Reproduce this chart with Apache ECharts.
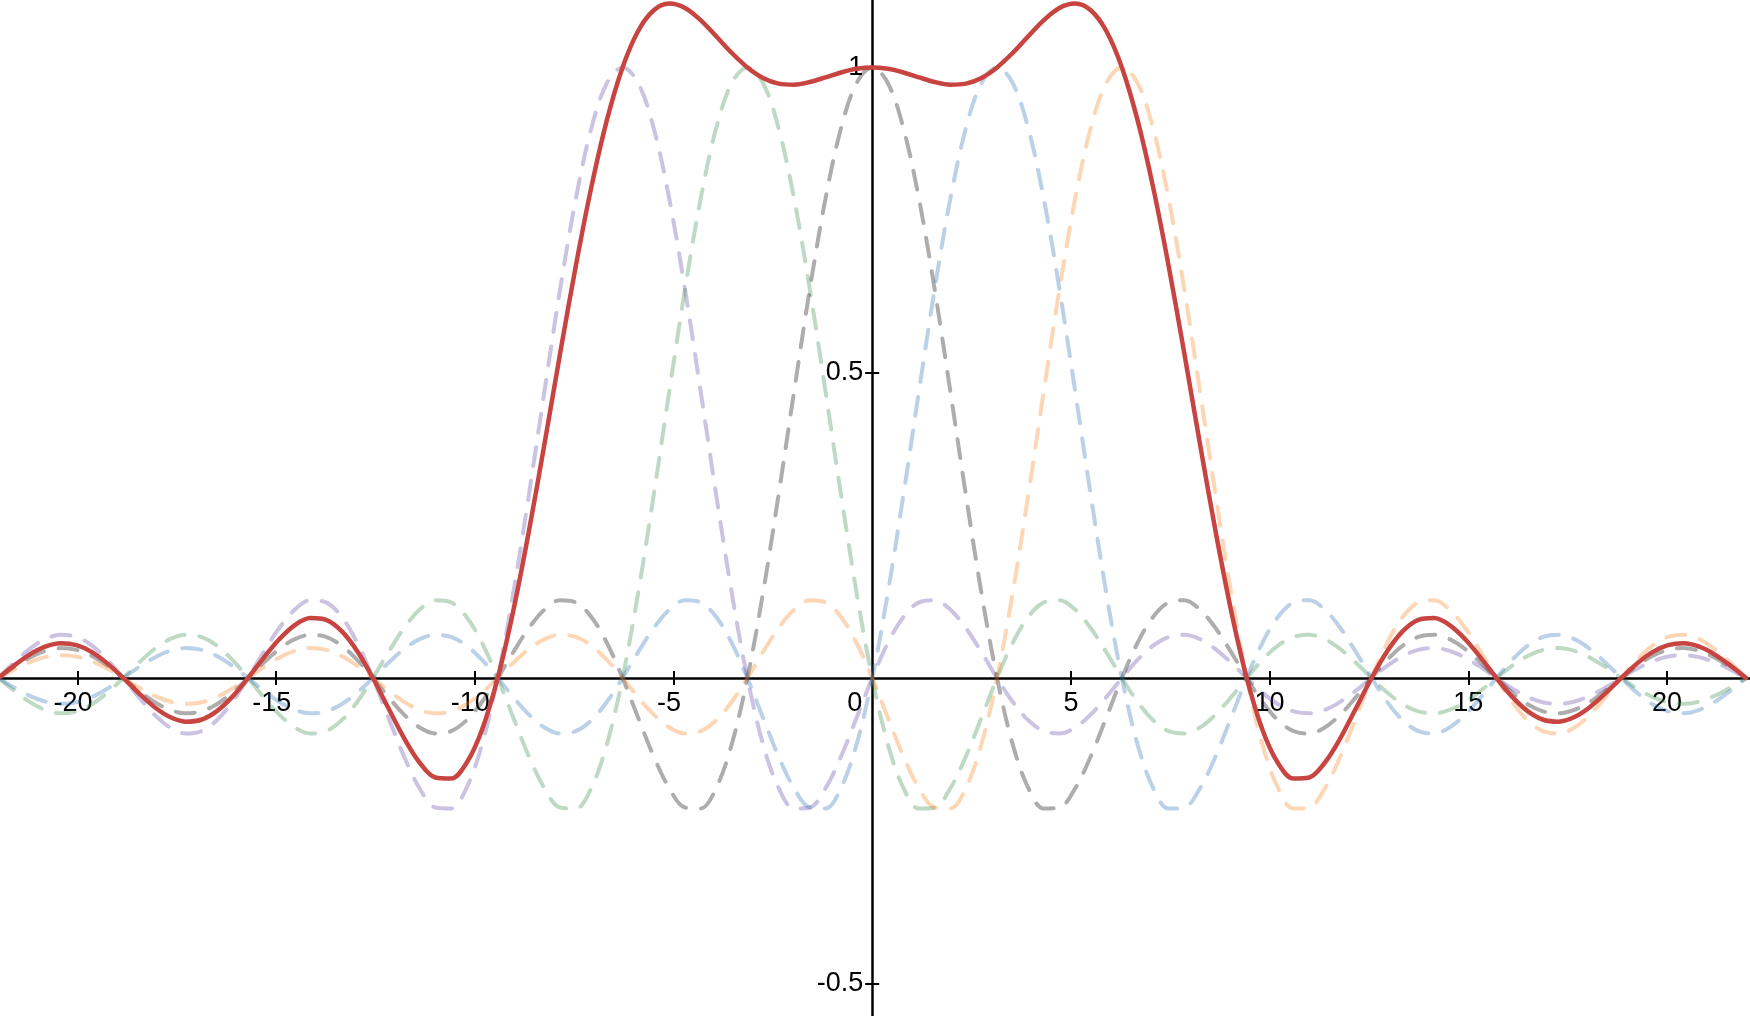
<!DOCTYPE html>
<html>
<head>
<meta charset="utf-8">
<script src="https://cdn.jsdelivr.net/npm/echarts@6/dist/echarts.min.js"></script>
<style>
html,body{margin:0;padding:0;background:#fff;}
#c{width:1750px;height:1016px;}
</style>
</head>
<body>
<div id="c"></div>
<script>
// sample positions (x)
const xs = [-21.9911, -21.5984, -21.2058, -20.8131, -20.4204, -20.0277, -19.6350, -19.2423, -18.8496, -18.4569, -18.0642, -17.6715, -17.2788, -16.8861, -16.4934, -16.1007, -15.7080, -15.3153, -14.9226, -14.5299, -14.1372, -13.7445, -13.3518, -12.9591, -12.5664, -12.1737, -11.7810, -11.3883, -10.9956, -10.6029, -10.2102, -9.8175, -9.4248, -9.0321, -8.6394, -8.2467, -7.8540, -7.4613, -7.0686, -6.6759, -6.2832, -5.8905, -5.4978, -5.1051, -4.7124, -4.3197, -3.9270, -3.5343, -3.1416, -2.7489, -2.3562, -1.9635, -1.5708, -1.1781, -0.7854, -0.3927,
  0,
  0.3927, 0.7854, 1.1781, 1.5708, 1.9635, 2.3562, 2.7489, 3.1416, 3.5343, 3.9270, 4.3197, 4.7124, 5.1051, 5.4978, 5.8905, 6.2832, 6.6759, 7.0686, 7.4613, 7.8540, 8.2467, 8.6394, 9.0321, 9.4248, 9.8175, 10.2102, 10.6029, 10.9956, 11.3883, 11.7810, 12.1737, 12.5664, 12.9591, 13.3518, 13.7445, 14.1372, 14.5299, 14.9226, 15.3153, 15.7080, 16.1007, 16.4934, 16.8861, 17.2788, 17.6715, 18.0642, 18.4569, 18.8496, 19.2423, 19.6350, 20.0277, 20.4204, 20.8131, 21.2058, 21.5984, 21.9911];

// dashed curve peaking at x = -2π (purple)
const purpleY = [0, 0.0250, 0.0474, 0.0636, 0.0707, 0.0672, 0.0530, 0.0295, 0, -0.0314, -0.0600, -0.0811, -0.0909, -0.0871, -0.0693, -0.0390, 0, 0.0424, 0.0818, 0.1120, 0.1273, 0.1238, 0.1000, 0.0573, 0, -0.0650, -0.1286, -0.1810, -0.2122, -0.2139, -0.1801, -0.1083, 0, 0.1392, 0.3001, 0.4705, 0.6366, 0.7842, 0.9003, 0.9745,
  1,
  0.9745, 0.9003, 0.7842, 0.6366, 0.4705, 0.3001, 0.1392, 0, -0.1083, -0.1801, -0.2139, -0.2122, -0.1810, -0.1286, -0.0650, 0, 0.0573, 0.1000, 0.1238, 0.1273, 0.1120, 0.0818, 0.0424, 0, -0.0390, -0.0693, -0.0871, -0.0909, -0.0811, -0.0600, -0.0314, 0, 0.0295, 0.0530, 0.0672, 0.0707, 0.0636, 0.0474, 0.0250, 0, -0.0238, -0.0429, -0.0547, -0.0579, -0.0523, -0.0391, -0.0207, 0, 0.0199, 0.0360, 0.0461, 0.0490, 0.0444, 0.0333, 0.0177, 0,
  -0.0171, -0.0310, -0.0399, -0.0424, -0.0386, -0.0290, -0.0155, 0, 0.0150, 0.0273, 0.0351, 0.0374, 0.0341, 0.0257, 0.0137, 0];

// dashed curve peaking at x = -π (green)
const greenY = [0, -0.0207, -0.0391, -0.0523, -0.0579, -0.0547, -0.0429, -0.0238, 0, 0.0250, 0.0474, 0.0636, 0.0707, 0.0672, 0.0530, 0.0295, 0, -0.0314, -0.0600, -0.0811, -0.0909, -0.0871, -0.0693, -0.0390, 0, 0.0424, 0.0818, 0.1120, 0.1273, 0.1238, 0.1000, 0.0573, 0, -0.0650, -0.1286, -0.1810, -0.2122, -0.2139, -0.1801, -0.1083, 0, 0.1392, 0.3001, 0.4705, 0.6366, 0.7842, 0.9003, 0.9745,
  1,
  0.9745, 0.9003, 0.7842, 0.6366, 0.4705, 0.3001, 0.1392, 0, -0.1083, -0.1801, -0.2139, -0.2122, -0.1810, -0.1286, -0.0650, 0, 0.0573, 0.1000, 0.1238, 0.1273, 0.1120, 0.0818, 0.0424, 0, -0.0390, -0.0693, -0.0871, -0.0909, -0.0811, -0.0600, -0.0314, 0, 0.0295, 0.0530, 0.0672, 0.0707, 0.0636, 0.0474, 0.0250, 0, -0.0238, -0.0429, -0.0547, -0.0579, -0.0523, -0.0391, -0.0207, 0, 0.0199, 0.0360, 0.0461, 0.0490, 0.0444, 0.0333, 0.0177, 0,
  -0.0171, -0.0310, -0.0399, -0.0424, -0.0386, -0.0290, -0.0155, 0];

// dashed curve peaking at x = 0 (gray)
const grayY = [0, 0.0177, 0.0333, 0.0444, 0.0490, 0.0461, 0.0360, 0.0199, 0, -0.0207, -0.0391, -0.0523, -0.0579, -0.0547, -0.0429, -0.0238, 0, 0.0250, 0.0474, 0.0636, 0.0707, 0.0672, 0.0530, 0.0295, 0, -0.0314, -0.0600, -0.0811, -0.0909, -0.0871, -0.0693, -0.0390, 0, 0.0424, 0.0818, 0.1120, 0.1273, 0.1238, 0.1000, 0.0573, 0, -0.0650, -0.1286, -0.1810, -0.2122, -0.2139, -0.1801, -0.1083, 0, 0.1392, 0.3001, 0.4705, 0.6366, 0.7842, 0.9003, 0.9745,
  1,
  0.9745, 0.9003, 0.7842, 0.6366, 0.4705, 0.3001, 0.1392, 0, -0.1083, -0.1801, -0.2139, -0.2122, -0.1810, -0.1286, -0.0650, 0, 0.0573, 0.1000, 0.1238, 0.1273, 0.1120, 0.0818, 0.0424, 0, -0.0390, -0.0693, -0.0871, -0.0909, -0.0811, -0.0600, -0.0314, 0, 0.0295, 0.0530, 0.0672, 0.0707, 0.0636, 0.0474, 0.0250, 0, -0.0238, -0.0429, -0.0547, -0.0579, -0.0523, -0.0391, -0.0207, 0, 0.0199, 0.0360, 0.0461, 0.0490, 0.0444, 0.0333, 0.0177, 0];

// dashed curve peaking at x = π (blue)
const blueY = [0, -0.0155, -0.0290, -0.0386, -0.0424, -0.0399, -0.0310, -0.0171,
  0, 0.0177, 0.0333, 0.0444, 0.0490, 0.0461, 0.0360, 0.0199, 0, -0.0207, -0.0391, -0.0523, -0.0579, -0.0547, -0.0429, -0.0238, 0, 0.0250, 0.0474, 0.0636, 0.0707, 0.0672, 0.0530, 0.0295, 0, -0.0314, -0.0600, -0.0811, -0.0909, -0.0871, -0.0693, -0.0390, 0, 0.0424, 0.0818, 0.1120, 0.1273, 0.1238, 0.1000, 0.0573, 0, -0.0650, -0.1286, -0.1810, -0.2122, -0.2139, -0.1801, -0.1083, 0, 0.1392, 0.3001, 0.4705, 0.6366, 0.7842, 0.9003, 0.9745,
  1,
  0.9745, 0.9003, 0.7842, 0.6366, 0.4705, 0.3001, 0.1392, 0, -0.1083, -0.1801, -0.2139, -0.2122, -0.1810, -0.1286, -0.0650, 0, 0.0573, 0.1000, 0.1238, 0.1273, 0.1120, 0.0818, 0.0424, 0, -0.0390, -0.0693, -0.0871, -0.0909, -0.0811, -0.0600, -0.0314, 0, 0.0295, 0.0530, 0.0672, 0.0707, 0.0636, 0.0474, 0.0250, 0, -0.0238, -0.0429, -0.0547, -0.0579, -0.0523, -0.0391, -0.0207, 0];

// dashed curve peaking at x = 2π (orange)
const orangeY = [0, 0.0137, 0.0257, 0.0341, 0.0374, 0.0351, 0.0273, 0.0150, 0, -0.0155, -0.0290, -0.0386, -0.0424, -0.0399, -0.0310, -0.0171,
  0, 0.0177, 0.0333, 0.0444, 0.0490, 0.0461, 0.0360, 0.0199, 0, -0.0207, -0.0391, -0.0523, -0.0579, -0.0547, -0.0429, -0.0238, 0, 0.0250, 0.0474, 0.0636, 0.0707, 0.0672, 0.0530, 0.0295, 0, -0.0314, -0.0600, -0.0811, -0.0909, -0.0871, -0.0693, -0.0390, 0, 0.0424, 0.0818, 0.1120, 0.1273, 0.1238, 0.1000, 0.0573, 0, -0.0650, -0.1286, -0.1810, -0.2122, -0.2139, -0.1801, -0.1083, 0, 0.1392, 0.3001, 0.4705, 0.6366, 0.7842, 0.9003, 0.9745,
  1,
  0.9745, 0.9003, 0.7842, 0.6366, 0.4705, 0.3001, 0.1392, 0, -0.1083, -0.1801, -0.2139, -0.2122, -0.1810, -0.1286, -0.0650, 0, 0.0573, 0.1000, 0.1238, 0.1273, 0.1120, 0.0818, 0.0424, 0, -0.0390, -0.0693, -0.0871, -0.0909, -0.0811, -0.0600, -0.0314, 0, 0.0295, 0.0530, 0.0672, 0.0707, 0.0636, 0.0474, 0.0250, 0];

// solid red sum curve
const sumY = [0, 0.0202, 0.0383, 0.0512, 0.0568, 0.0538, 0.0424, 0.0235, 0, -0.0249, -0.0474, -0.0640, -0.0715, -0.0684, -0.0542, -0.0305, 0, 0.0330, 0.0634, 0.0866, 0.0982, 0.0953, 0.0768, 0.0439, 0, -0.0497, -0.0985, -0.1388, -0.1630, -0.1647, -0.1393, -0.0843, 0, 0.1102, 0.2407, 0.3840, 0.5315, 0.6742, 0.8039, 0.9140, 1.0000, 1.0597, 1.0936, 1.1046, 1.0974, 1.0775, 1.0510, 1.0237, 1.0000, 0.9828, 0.9735, 0.9718, 0.9761, 0.9836, 0.9917, 0.9977,
  1,
  0.9977, 0.9917, 0.9836, 0.9761, 0.9718, 0.9735, 0.9828, 1.0000, 1.0237, 1.0510, 1.0775, 1.0974, 1.1046, 1.0936, 1.0597, 1.0000, 0.9140, 0.8039, 0.6742, 0.5315, 0.3840, 0.2407, 0.1102, 0, -0.0843, -0.1393, -0.1647, -0.1630, -0.1388, -0.0985, -0.0497, 0, 0.0439, 0.0768, 0.0953, 0.0982, 0.0866, 0.0634, 0.0330, 0, -0.0305, -0.0542, -0.0684, -0.0715, -0.0640, -0.0474, -0.0249, 0, 0.0235, 0.0424, 0.0538, 0.0568, 0.0512, 0.0383, 0.0202, 0];

// tick labels
const xTickValues = [-20, -15, -10, -5, 5, 10, 15, 20];
const xLabelValues = [-20, -15, -10, -5, 0, 5, 10, 15, 20];
const yTickValues = [-0.5, 0.5, 1];

const FONT = "'Liberation Sans', Arial, sans-serif";
const FS = 27;
const W = 1750, H = 1016;

function pairs(ys) { return xs.map((x, i) => [x, ys[i]]); }

const chart = echarts.init(document.getElementById('c'), null, {renderer: 'canvas'});

const xRange = {min: -21.95, max: 22.09};
const yRange = {min: -0.5536, max: 1.1104};
// pixel position of the origin inside the full-canvas grid
const originX = (0 - xRange.min) / (xRange.max - xRange.min) * W;
const originY = (yRange.max - 0) / (yRange.max - yRange.min) * H;

function dashed(name, color, ys, op) {
  return {
    name: name, type: 'line', data: pairs(ys), showSymbol: false, smooth: 0.35,
    silent: true, z: 2,
    lineStyle: {color: color, width: 4, type: [19, 15], cap: 'round', join: 'round', opacity: op}
  };
}

const labelStyle = {color: '#000', fontSize: FS, fontFamily: FONT};

chart.setOption({
  animation: false,
  backgroundColor: '#ffffff',
  grid: [
    {left: 0, right: 0, top: 0, bottom: 0, containLabel: false, outerBoundsMode: 'none'},
    // grid whose bottom edge lies on y = 0 (carries x tick labels)
    {left: 0, right: 0, top: 0, bottom: H - originY, containLabel: false, outerBoundsMode: 'none'},
    // grid whose left edge lies on x = 0 (carries y tick labels)
    {left: originX, right: 0, top: 0, bottom: 0, containLabel: false, outerBoundsMode: 'none'}
  ],
  xAxis: [
    {
      type: 'value', gridIndex: 0, position: 'bottom', min: xRange.min, max: xRange.max,
      axisLine: {show: true, onZero: true, onZeroAxisIndex: 0, lineStyle: {color: '#000', width: 2.5}},
      axisTick: {show: true, customValues: xTickValues, length: 7, lineStyle: {color: '#000', width: 2}},
      axisLabel: {show: false},
      splitLine: {show: false}
    },
    {
      type: 'value', gridIndex: 0, position: 'top', min: xRange.min, max: xRange.max,
      axisLine: {show: false, onZero: true, onZeroAxisIndex: 0},
      axisTick: {show: true, customValues: xTickValues, length: 7, lineStyle: {color: '#000', width: 2}},
      axisLabel: {show: false},
      splitLine: {show: false}
    },
    {
      type: 'value', gridIndex: 1, position: 'bottom', min: xRange.min, max: xRange.max,
      axisLine: {show: false, onZero: false},
      axisTick: {show: false},
      axisLabel: {
        show: true, customValues: xLabelValues, margin: 12, color: '#000', fontSize: FS, fontFamily: FONT,
        formatter: function (v) {
          if (v === 0) return '{z|0}';
          if (v < 0) return '{n|' + v + '}';
          return '' + v;
        },
        rich: {
          z: Object.assign({padding: [0, 35, 0, 0]}, labelStyle),
          n: Object.assign({padding: [0, 9, 0, 0]}, labelStyle)
        }
      },
      splitLine: {show: false}
    },
    {type: 'value', gridIndex: 2, show: false, min: 0, max: 1}
  ],
  yAxis: [
    {
      type: 'value', gridIndex: 0, position: 'left', min: yRange.min, max: yRange.max,
      axisLine: {show: true, onZero: true, onZeroAxisIndex: 0, lineStyle: {color: '#000', width: 2.5}},
      axisTick: {show: true, customValues: yTickValues, length: 7, lineStyle: {color: '#000', width: 2}},
      axisLabel: {show: false},
      splitLine: {show: false}
    },
    {
      type: 'value', gridIndex: 0, position: 'right', min: yRange.min, max: yRange.max,
      axisLine: {show: false, onZero: true, onZeroAxisIndex: 0},
      axisTick: {show: true, customValues: yTickValues, length: 7, lineStyle: {color: '#000', width: 2}},
      axisLabel: {show: false},
      splitLine: {show: false}
    },
    {type: 'value', gridIndex: 1, show: false, min: 0, max: 1},
    {
      type: 'value', gridIndex: 2, position: 'left', min: yRange.min, max: yRange.max,
      axisLine: {show: false, onZero: false},
      axisTick: {show: false},
      axisLabel: {show: true, customValues: yTickValues, margin: 9, color: '#000', fontSize: FS, fontFamily: FONT},
      splitLine: {show: false}
    }
  ],
  series: [
    dashed('sinc(x+2π)', '#6042a6', purpleY, 0.32),
    dashed('sinc(x+π)', '#388c46', greenY, 0.32),
    dashed('sinc(x)', '#000000', grayY, 0.32),
    dashed('sinc(x−π)', '#2d70b3', blueY, 0.32),
    dashed('sinc(x−2π)', '#fa7e19', orangeY, 0.32),
    {
      name: 'sum', type: 'line', data: pairs(sumY), showSymbol: false, smooth: 0.35, silent: true, z: 3,
      lineStyle: {color: '#c74440', width: 4.5, cap: 'round', join: 'round'}
    }
  ]
});
</script>
</body>
</html>
